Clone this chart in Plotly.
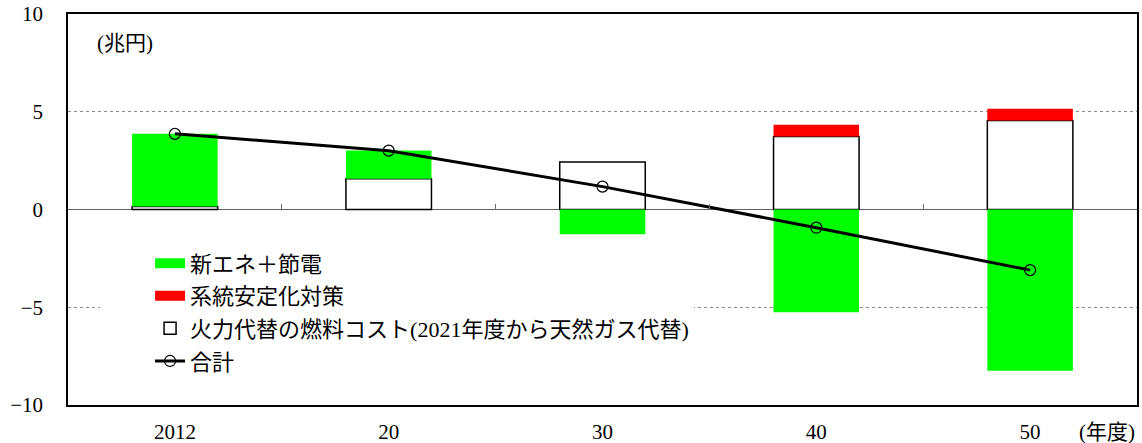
import plotly.graph_objects as go

years = ["2012", "20", "30", "40", "50"]
fuel_cost = [0.15, 1.57, 2.43, 3.73, 4.55]
new_energy = [3.72, 1.45, -1.27, -5.26, -8.25]
grid_stab = [0.0, 0.0, 0.0, 0.60, 0.60]
total = [3.87, 3.01, 1.17, -0.93, -3.10]

name_new = "新エネ＋節電"
name_grid = "系統安定化対策"
name_fuel = "火力代替の燃料コスト(2021年度から天然ガス代替)"
name_total = "合計"

GREEN = "#00FF00"
RED = "#FF0000"
FONT = "Liberation Serif, Noto Sans CJK JP"

fig = go.Figure()

fig.add_trace(go.Bar(x=years, y=fuel_cost, name=name_fuel,
                     marker=dict(color="white", line=dict(color="black", width=1.5)),
                     legendrank=3, legendgroup="c", showlegend=True))
fig.add_trace(go.Bar(x=years, y=new_energy, name=name_new,
                     marker=dict(color=GREEN, line=dict(width=0)),
                     showlegend=False))
fig.add_trace(go.Bar(x=years, y=grid_stab, name=name_grid,
                     marker=dict(color=RED, line=dict(width=0)),
                     showlegend=False))
fig.add_trace(go.Scatter(x=years, y=total, name=name_total, mode="lines+markers",
                         line=dict(color="black", width=3),
                         marker=dict(symbol="circle-open", size=11,
                                     color="black", line=dict(width=1.2)),
                         legendrank=4, legendgroup="d"))
# legend-only swatches for the coloured series
fig.add_trace(go.Scatter(x=[None], y=[None], name=name_new, mode="lines",
                         line=dict(color=GREEN, width=10),
                         legendrank=1, legendgroup="a", hoverinfo="skip"))
fig.add_trace(go.Scatter(x=[None], y=[None], name=name_grid, mode="lines",
                         line=dict(color=RED, width=10),
                         legendrank=2, legendgroup="b", hoverinfo="skip"))

fig.update_layout(
    width=1142, height=443,
    margin=dict(l=68, r=5, t=14, b=38),
    plot_bgcolor="white", paper_bgcolor="white",
    barmode="relative", bargap=0.6,
    font=dict(family=FONT, size=21, color="black"),
    legend=dict(x=0.03, xanchor="left", y=0.416, yanchor="top",
                bgcolor="white", borderwidth=0,
                font=dict(family=FONT, size=22, color="black"),
                traceorder="grouped", tracegroupgap=1,
                indentation=50, itemwidth=30),
    xaxis=dict(type="category", range=[-0.5, 4.5], automargin=False,
               showline=True, linecolor="black", linewidth=1.5, mirror=True,
               ticks="outside", ticklen=7, tickcolor="rgba(0,0,0,0)",
               showgrid=False, tickfont=dict(size=21, family=FONT)),
    xaxis2=dict(overlaying="x", anchor="free", position=0.5, side="bottom",
                range=[-0.5, 4.5], tickvals=[0.5, 1.5, 2.5, 3.5],
                ticks="inside", ticklen=6, tickwidth=1, tickcolor="#707070",
                showticklabels=False, showline=False, showgrid=False,
                zeroline=False, automargin=False),
    yaxis=dict(range=[-10, 10], tickvals=[-10, -5, 0, 5, 10],
               ticktext=["−10", "−5", "0", "5", "10"], automargin=False,
               showline=True, linecolor="black", linewidth=1.5, mirror=True,
               showgrid=True, gridcolor="#8a8a8a", gridwidth=1, griddash="dot",
               zeroline=True, zerolinecolor="#606060", zerolinewidth=1,
               ticks="outside", ticklen=19, tickcolor="rgba(0,0,0,0)",
               tickfont=dict(size=21, family=FONT)),
    annotations=[
        dict(text="(兆円)", xref="paper", yref="paper", x=0.025, y=0.925,
             xanchor="left", yanchor="middle", showarrow=False,
             font=dict(size=21, family=FONT)),
        dict(text="(年度)", xref="paper", yref="paper", x=1.0, y=0,
             xanchor="right", yanchor="middle", yshift=-27, showarrow=False,
             font=dict(size=21, family=FONT)),
    ],
)
# dummy trace to activate xaxis2 for the boundary tick marks
fig.add_trace(go.Scatter(x=[None], y=[None], xaxis="x2", showlegend=False,
                         hoverinfo="skip"))

fig.write_html("out.html")
